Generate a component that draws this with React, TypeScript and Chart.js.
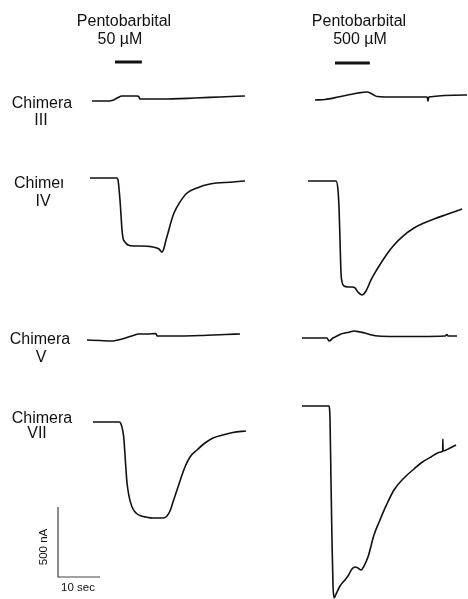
import React, { useEffect, useRef } from "react";
import { Chart, registerables } from "chart.js";

Chart.register(...registerables);

const W = 468;
const H = 599;
// calibration from the scale bar: 10 s = 42 px, 500 nA = 70 px
const PX_PER_S = 4.2;
const PX_PER_NA = 0.14;

const DRUG = "Pentobarbital";
const CONCENTRATIONS = ["50 \u00b5M", "500 \u00b5M"];
const DRUG_DURATION_S = [6.4, 8.3];
const CHIMERAS = ["III", "IV", "V", "VII"];
const SCALE_NA = 500;
const SCALE_S = 10;
const SCALE_LABELS = ["500 nA", "10 sec"];

// ---- traces: time (s from trace start), current (nA, relative to baseline) ----
const III_50_T = [0, 3.1, 4.8, 6.0, 7.1, 10.7, 11.2, 11.4, 16.7, 24.5, 30.5, 36.4];
const III_50_I = [0, 0, 4, 21, 36, 36, 29, 14, 14, 21, 29, 36];

const III_500_T = [0, 2.4, 5.5, 8.3, 10.2, 12.4, 13.6, 14.8, 19.0, 26.7, 26.9, 27.1, 36.2];
const III_500_I = [0, 4, 21, 39, 50, 57, 43, 25, 21, 21, -7, 21, 36];

const IV_50_T = [0, 4.76, 6.43, 6.67, 7.14, 7.38, 7.62, 7.86, 8.33, 9.05, 10.48, 11.9, 15.0, 16.43, 17.14, 17.62, 18.1, 18.57, 19.29, 20.0, 21.43, 23.1, 25.48, 28.57, 34.05, 36.9];
const IV_50_I = [0, 0, 0, -14, -157, -264, -371, -429, -457, -479, -486, -486, -493, -507, -529, -500, -443, -393, -314, -250, -171, -107, -71, -43, -29, -21];

const IV_500_T = [0, 5.24, 6.67, 7.14, 7.38, 7.62, 7.86, 8.1, 8.57, 9.52, 10.48, 11.19, 11.9, 12.86, 13.81, 15.0, 16.19, 17.38, 18.81, 20.48, 22.62, 25.24, 27.62, 30.0, 33.33, 36.67];
const IV_500_I = [0, 0, 0, -64, -186, -421, -657, -721, -750, -757, -757, -764, -793, -814, -786, -707, -643, -586, -521, -457, -393, -336, -300, -271, -236, -200];

const V_50_T = [0, 3.1, 6.19, 7.38, 8.81, 10.24, 11.43, 12.14, 14.29, 16.43, 16.67, 22.14, 26.9, 30.0, 32.86, 36.43];
const V_50_I = [0, -4, -7, 0, 11, 25, 36, 43, 43, 46, 29, 29, 32, 36, 39, 43];

const V_500_T = [0, 3.1, 5.95, 6.43, 7.38, 8.33, 9.29, 10.24, 11.43, 12.38, 13.81, 15.0, 16.67, 18.1, 22.14, 28.1, 34.05, 34.52, 34.76, 36.9];
const V_500_I = [0, 0, 0, -21, 0, 14, 29, 36, 43, 50, 43, 36, 21, 14, 11, 11, 14, 25, 14, 14];

const VII_50_T = [0, 4.05, 6.19, 6.67, 7.14, 7.38, 7.62, 7.86, 8.1, 8.57, 9.29, 10.24, 11.19, 12.62, 14.29, 16.67, 17.62, 18.33, 19.05, 20.0, 20.95, 21.9, 23.1, 24.76, 26.67, 28.57, 30.95, 33.33, 36.43];
const VII_50_I = [0, 0, 0, -14, -71, -129, -236, -343, -436, -529, -607, -650, -668, -679, -686, -686, -671, -636, -571, -486, -400, -321, -250, -200, -150, -114, -93, -75, -64];

const VII_500_T = [0, 4.29, 6.43, 6.67, 6.9, 7.14, 7.38, 7.62, 8.1, 9.05, 10.0, 10.95, 11.9, 12.62, 13.33, 14.05, 14.76, 15.71, 17.14, 18.57, 20.0, 21.9, 24.29, 26.67, 28.33, 30.71, 33.1, 33.5, 33.53, 33.6, 35.24, 36.67];
const VII_500_I = [0, 0, 0, -100, -529, -957, -1279, -1371, -1343, -1286, -1250, -1214, -1164, -1150, -1157, -1171, -1143, -1079, -921, -814, -714, -600, -514, -450, -407, -364, -329, -321, -236, -321, -300, -279];

// ---- layout (page pixels): where each trace starts ----
const TRACES = [
  { t: III_50_T, i: III_50_I, at: [92, 101] },
  { t: III_500_T, i: III_500_I, at: [315, 100] },
  { t: IV_50_T, i: IV_50_I, at: [90, 178] },
  { t: IV_500_T, i: IV_500_I, at: [308, 181] },
  { t: V_50_T, i: V_50_I, at: [87, 340] },
  { t: V_500_T, i: V_500_I, at: [302, 338] },
  { t: VII_50_T, i: VII_50_I, at: [93, 422] },
  { t: VII_500_T, i: VII_500_I, at: [302, 406] },
];
const DRUG_BAR_AT = [
  [115, 62],
  [335, 63],
];
const SCALE_BAR_AT = [58, 577];

const toData = (ts: number[], is: number[], at: number[]) =>
  ts.map((t, k) => ({ x: at[0] / PX_PER_S + t, y: -at[1] / PX_PER_NA + is[k] }));

const FONT = "'Liberation Sans', Arial, Helvetica, sans-serif";

type Lbl = { text: string; x: number; y: number; size?: number; rot?: boolean; clipW?: number };

const HEAD_X = [[124, 120], [359, 360]];
const ROW_LABELS: Lbl[] = [
  { text: "Chimera", x: 42, y: 103 },
  { text: CHIMERAS[0], x: 41, y: 120 },
  { text: "Chimera", x: 14, y: 183, clipW: 49 },
  { text: CHIMERAS[1], x: 43, y: 201 },
  { text: "Chimera", x: 40, y: 339 },
  { text: CHIMERAS[2], x: 41, y: 357 },
  { text: "Chimera", x: 42, y: 418 },
  { text: CHIMERAS[3], x: 37, y: 433 },
];

export default function App() {
  const ref = useRef<HTMLCanvasElement | null>(null);

  useEffect(() => {
    if (!ref.current) return;
    const datasets: any[] = [];
    TRACES.forEach((tr) => {
      datasets.push({
        data: toData(tr.t, tr.i, tr.at),
        showLine: true,
        borderColor: "#111",
        borderWidth: 1.6,
        pointRadius: 0,
        cubicInterpolationMode: "monotone",
        fill: false,
      });
    });
    DRUG_DURATION_S.forEach((d, k) => {
      datasets.push({
        data: toData([0, d], [0, 0], DRUG_BAR_AT[k]),
        showLine: true,
        borderColor: "#111",
        borderWidth: 3,
        pointRadius: 0,
        fill: false,
      });
    });
    datasets.push({
      data: toData([0, 0, SCALE_S], [SCALE_NA, 0, 0], SCALE_BAR_AT),
      showLine: true,
      borderColor: "#444",
      borderWidth: 1.2,
      pointRadius: 0,
      fill: false,
    });

    const chart = new Chart(ref.current, {
      type: "scatter",
      data: { datasets },
      options: {
        animation: false,
        responsive: false,
        maintainAspectRatio: false,
        layout: { padding: 0 },
        plugins: { legend: { display: false }, tooltip: { enabled: false } },
        scales: {
          x: { type: "linear", min: 0, max: W / PX_PER_S, display: false },
          y: { type: "linear", min: -H / PX_PER_NA, max: 0, display: false },
        },
      },
    });
    return () => chart.destroy();
  }, []);

  const labels: Lbl[] = [];
  CONCENTRATIONS.forEach((c, k) => {
    labels.push({ text: DRUG, x: HEAD_X[k][0], y: 21 });
    labels.push({ text: c, x: HEAD_X[k][1], y: 39 });
  });
  labels.push(...ROW_LABELS);
  labels.push({ text: SCALE_LABELS[0], x: 44, y: 547, size: 11.5, rot: true });
  labels.push({ text: SCALE_LABELS[1], x: 78, y: 588, size: 11.5 });

  return (
    <div style={{ position: "fixed", left: 0, top: 0, width: W, height: H, background: "#fff", overflow: "hidden" }}>
      <canvas ref={ref} width={W} height={H} style={{ position: "absolute", left: 0, top: 0, width: W, height: H }} />
      {labels.map((l, k) => {
        const size = l.size ?? 16;
        if (l.clipW) {
          return (
            <div
              key={k}
              style={{
                position: "absolute",
                left: l.x,
                top: l.y - size / 2,
                width: l.clipW,
                overflow: "hidden",
                whiteSpace: "nowrap",
                fontFamily: FONT,
                fontSize: size,
                lineHeight: "1",
                color: "#111",
              }}
            >
              {l.text}
            </div>
          );
        }
        return (
          <div
            key={k}
            style={{
              position: "absolute",
              left: l.x,
              top: l.y,
              transform: `translate(-50%, -50%)${l.rot ? " rotate(-90deg)" : ""}`,
              whiteSpace: "nowrap",
              fontFamily: FONT,
              fontSize: size,
              lineHeight: "1",
              color: "#111",
            }}
          >
            {l.text}
          </div>
        );
      })}
    </div>
  );
}
